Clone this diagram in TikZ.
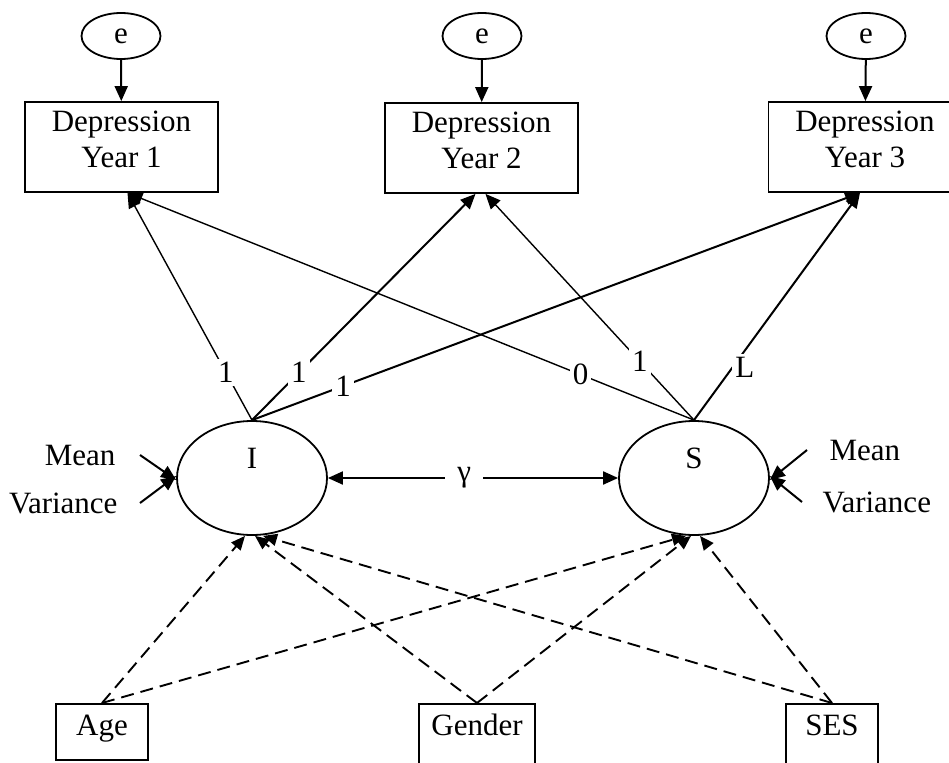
\documentclass[tikz,border=0pt]{standalone}
\usepackage{fontspec}
\setmainfont{Liberation Serif}
\usetikzlibrary{arrows.meta,shapes.geometric,calc}
\newcommand{\deptext}[1]{\raisebox{5pt}[\height][\depth]{\begin{tabular}{@{}c@{}}Depression\\Year #1\end{tabular}}}
\begin{document}
\begin{tikzpicture}[x=1pt,y=-1pt,
  every node/.style={font=\fontsize{31}{36}\selectfont},
  box/.style={draw,line width=1.8pt,inner sep=0pt},
  dbox/.style={box,minimum width=193pt,minimum height=90pt,align=center},
  err/.style={draw,ellipse,line width=1.8pt,minimum width=79pt,minimum height=46pt,inner sep=0pt},
  lat/.style={draw,ellipse,line width=1.8pt,minimum width=150pt,minimum height=114pt,inner sep=0pt,text height=21pt,text depth=41pt},
  cov/.style={box,text height=32pt},
  arr/.style={line width=2pt,-{Triangle[length=15pt,width=13pt]}},
  thinarr/.style={line width=1.4pt,-{Triangle[length=15pt,width=13pt]}},
  darr/.style={line width=1.9pt,dash pattern=on 13pt off 7pt,-{Triangle[length=14pt,width=12pt]}},
  lbl/.style={fill=white,inner sep=3pt}
]
\clip (0,0) rectangle (949,762);
\fill[white] (0,0) rectangle (949,762);

% indicators
\node[dbox] (d1) at (121.5,147) {\deptext{1}};
\node[dbox] (d2) at (481.5,148) {\deptext{2}};
\node[dbox] (d3) at (865,147) {\deptext{3}};

% errors
\node[err] (e1) at (121,36) {e};
\node[err] (e2) at (482,36) {e};
\node[err] (e3) at (866,36) {e};
\draw[arr] (e1) -- (d1);
\draw[arr] (e2) -- (d2);
\draw[arr] (e3) -- (d3);

% latent growth factors
\node[lat] (I) at (252,478) {I};
\node[lat] (S) at (694,478) {S};

% loadings
\draw[thinarr] (I.north) -- node[lbl,pos=0.21] {1} ([xshift=6pt]d1.south);
\draw[arr] (I.north) -- node[lbl,pos=0.21] {1} ([xshift=-6pt]d2.south);
\draw[arr] (I.north) -- node[lbl,pos=0.15] {1} ([xshift=-5pt]d3.south);
\draw[thinarr] (S.north) -- node[lbl,pos=0.2] {0} ([xshift=6pt]d1.south);
\draw[thinarr] (S.north) -- node[lbl,pos=0.26] {1} ([xshift=4pt]d2.south);
\draw[arr] (S.north) -- node[lbl,pos=0.24,xshift=11pt,yshift=-2pt] {L} ([xshift=-5pt]d3.south);

% covariance
\draw[line width=2pt,{Triangle[length=15pt,width=13pt]}-{Triangle[length=15pt,width=13pt]}] (I.east) -- node[fill=white,inner xsep=12pt,inner ysep=4pt,pos=0.47] {γ} (S.east -| S.west);

% means and variances
\node[anchor=east] (mL) at (119,455) {Mean};
\node[anchor=east] (vL) at (121,503) {Variance};
\node[anchor=west] (mR) at (826,450) {Mean};
\node[anchor=west] (vR) at (819,502) {Variance};
\draw[arr] ([xshift=21pt]mL.east) -- ([yshift=-2pt]I.west);
\draw[arr] ([xshift=19pt]vL.east) -- ([yshift=2pt]I.west);
\draw[arr] ([xshift=-19pt]mR.west) -- ([yshift=-2pt]S.east);
\draw[arr] ([xshift=-17pt]vR.west) -- ([yshift=2pt]S.east);

% covariates
\node[cov,anchor=north,minimum width=92pt,text depth=24pt] (age) at (102,703) {Age};
\node[cov,anchor=north,minimum width=116pt,text depth=48pt] (gen) at (477,703) {Gender};
\node[cov,anchor=north,minimum width=92pt,text depth=48pt] (ses) at (832,703) {SES};

\draw[darr] (age.north) -- ([xshift=-7pt]I.south);
\draw[darr] (age.north) -- ([xshift=-8pt]S.south);
\draw[darr] (gen.north) -- ([xshift=3pt]I.south);
\draw[darr] (gen.north) -- ([xshift=-3pt]S.south);
\draw[darr] (ses.north) -- ([xshift=11pt]I.south);
\draw[darr] (ses.north) -- ([xshift=6pt]S.south);
\end{tikzpicture}
\end{document}
